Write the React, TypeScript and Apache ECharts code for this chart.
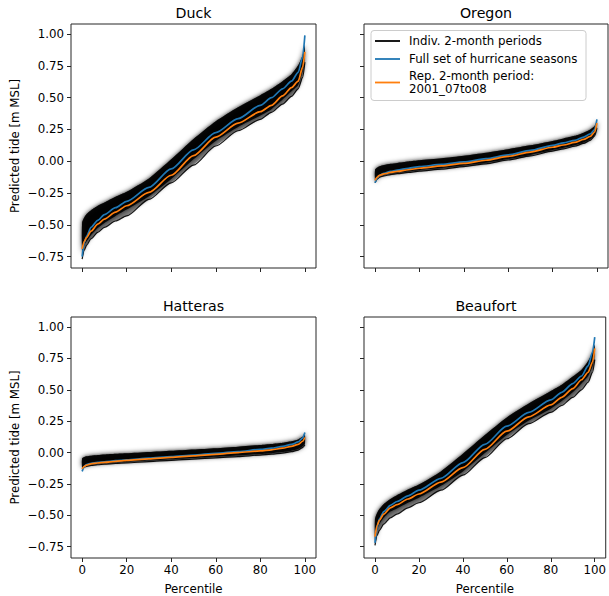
import React, { useEffect, useRef } from "react";
import * as echarts from "echarts";

// Percentile sample positions
const X = [0, 1, 2, 4, 7, 10, 15, 20, 30, 40, 50, 60, 70, 80, 85, 90, 94, 97, 99, 100];

// Duck
const duckBlue = [-0.75, -0.64, -0.59, -0.52, -0.465, -0.42, -0.365, -0.315, -0.205, -0.06, 0.09, 0.225, 0.335, 0.44, 0.5, 0.57, 0.63, 0.7, 0.82, 0.99];
const duckOrange = [-0.69, -0.63, -0.6, -0.55, -0.495, -0.455, -0.4, -0.35, -0.245, -0.11, 0.045, 0.19, 0.3, 0.39, 0.44, 0.515, 0.58, 0.63, 0.74, 0.86];
const duckHi = [-0.48, -0.44, -0.415, -0.385, -0.35, -0.325, -0.28, -0.24, -0.135, 0.015, 0.175, 0.315, 0.425, 0.52, 0.57, 0.63, 0.685, 0.755, 0.835, 0.915];
const duckCoreLo = [-0.72, -0.66, -0.63, -0.58, -0.525, -0.485, -0.43, -0.38, -0.275, -0.14, 0.015, 0.16, 0.27, 0.36, 0.41, 0.485, 0.55, 0.6, 0.71, 0.83];
const duckLo = [-0.77, -0.7, -0.66, -0.61, -0.56, -0.52, -0.47, -0.43, -0.3, -0.17, -0.03, 0.12, 0.24, 0.33, 0.385, 0.45, 0.51, 0.57, 0.66, 0.78];

// Oregon
const oregonBlue = [-0.17, -0.13, -0.11, -0.095, -0.08, -0.07, -0.055, -0.042, -0.025, -0.005, 0.02, 0.05, 0.085, 0.125, 0.145, 0.165, 0.19, 0.215, 0.25, 0.33];
const oregonOrange = [-0.15, -0.125, -0.11, -0.1, -0.088, -0.08, -0.067, -0.055, -0.037, -0.017, 0.008, 0.038, 0.072, 0.11, 0.128, 0.148, 0.172, 0.195, 0.23, 0.3];
const oregonHi = [-0.065, -0.05, -0.04, -0.03, -0.02, -0.013, -0.002, 0.007, 0.023, 0.043, 0.067, 0.095, 0.125, 0.16, 0.18, 0.2, 0.225, 0.25, 0.28, 0.315];
const oregonCoreLo = [-0.162, -0.132, -0.117, -0.107, -0.097, -0.09, -0.08, -0.07, -0.054, -0.034, -0.012, 0.018, 0.05, 0.088, 0.106, 0.126, 0.148, 0.173, 0.208, 0.268];
const oregonLo = [-0.17, -0.14, -0.125, -0.115, -0.105, -0.098, -0.088, -0.078, -0.062, -0.042, -0.02, 0.01, 0.042, 0.08, 0.098, 0.118, 0.14, 0.165, 0.2, 0.26];

// Hatteras
const hatterasBlue = [-0.15, -0.11, -0.095, -0.085, -0.078, -0.073, -0.065, -0.058, -0.045, -0.032, -0.02, -0.006, 0.008, 0.025, 0.035, 0.05, 0.065, 0.085, 0.115, 0.16];
const hatterasOrange = [-0.13, -0.11, -0.1, -0.09, -0.083, -0.078, -0.07, -0.063, -0.05, -0.038, -0.026, -0.014, 0.0, 0.013, 0.022, 0.035, 0.05, 0.065, 0.09, 0.12];
const hatterasHi = [-0.045, -0.035, -0.03, -0.025, -0.019, -0.015, -0.009, -0.005, 0.005, 0.015, 0.025, 0.035, 0.047, 0.06, 0.068, 0.078, 0.09, 0.105, 0.125, 0.155];
const hatterasCoreLo = [-0.122, -0.107, -0.102, -0.095, -0.089, -0.085, -0.079, -0.074, -0.064, -0.054, -0.044, -0.034, -0.024, -0.012, -0.005, 0.004, 0.015, 0.028, 0.048, 0.068];
const hatterasLo = [-0.13, -0.115, -0.11, -0.103, -0.097, -0.093, -0.087, -0.082, -0.072, -0.062, -0.052, -0.042, -0.032, -0.02, -0.013, -0.004, 0.007, 0.02, 0.04, 0.06];

// Beaufort
const beaufortBlue = [-0.72, -0.59, -0.53, -0.47, -0.42, -0.39, -0.345, -0.3, -0.205, -0.08, 0.066, 0.21, 0.32, 0.42, 0.48, 0.55, 0.61, 0.69, 0.8, 0.92];
const beaufortOrange = [-0.67, -0.58, -0.54, -0.49, -0.44, -0.415, -0.37, -0.33, -0.235, -0.12, 0.026, 0.17, 0.285, 0.38, 0.44, 0.51, 0.58, 0.64, 0.72, 0.83];
const beaufortHi = [-0.53, -0.48, -0.45, -0.41, -0.37, -0.34, -0.295, -0.255, -0.15, -0.01, 0.14, 0.28, 0.39, 0.49, 0.54, 0.605, 0.66, 0.73, 0.8, 0.86];
const beaufortCoreLo = [-0.7, -0.61, -0.57, -0.52, -0.47, -0.445, -0.4, -0.36, -0.265, -0.15, -0.004, 0.14, 0.255, 0.35, 0.41, 0.48, 0.55, 0.61, 0.69, 0.8];
const beaufortLo = [-0.74, -0.66, -0.62, -0.57, -0.52, -0.49, -0.44, -0.4, -0.3, -0.18, -0.04, 0.11, 0.23, 0.32, 0.375, 0.44, 0.5, 0.56, 0.64, 0.74];

const titles = ["Duck", "Oregon", "Hatteras", "Beaufort"];
const yTicks = [-0.75, -0.5, -0.25, 0, 0.25, 0.5, 0.75, 1.0];
const xTicks = [0, 20, 40, 60, 80, 100];
const legendNames = ["Indiv. 2-month periods", "Full set of hurricane seasons", "Rep. 2-month period:\n2001_07to08"];

const FONT = "DejaVu Sans";
const BLUE = "#1f77b4";
const ORANGE = "#ff7f0e";

export default function App() {
  const ref = useRef<HTMLDivElement>(null);

  useEffect(() => {
    if (!ref.current) return;
    const chart = echarts.init(ref.current, null, { renderer: "svg" });

    const panels = [
      { blue: duckBlue, orange: duckOrange, hi: duckHi, coreLo: duckCoreLo, lo: duckLo },
      { blue: oregonBlue, orange: oregonOrange, hi: oregonHi, coreLo: oregonCoreLo, lo: oregonLo },
      { blue: hatterasBlue, orange: hatterasOrange, hi: hatterasHi, coreLo: hatterasCoreLo, lo: hatterasLo },
      { blue: beaufortBlue, orange: beaufortOrange, hi: beaufortHi, coreLo: beaufortCoreLo, lo: beaufortLo },
    ];

    const gridPos = [
      { left: 71, top: 24, width: 245, height: 244 },
      { left: 364, top: 24, width: 244, height: 244 },
      { left: 71, top: 317, width: 245, height: 244 },
      { left: 364, top: 317, width: 244, height: 244 },
    ];

    const grid = gridPos.map((g) => ({
      ...g,
      show: true,
      borderColor: "#262626",
      borderWidth: 1,
      backgroundColor: "transparent",
      containLabel: false,
    }));

    const xAxis = gridPos.map((_, i) => ({
      type: "value",
      gridIndex: i,
      position: "bottom",
      min: -5,
      max: 105,
      splitLine: { show: false },
      axisLine: { show: false, onZero: false },
      axisTick: { show: true, length: 4, customValues: xTicks, lineStyle: { color: "#262626", width: 1 } },
      axisLabel: {
        show: i >= 2,
        customValues: xTicks,
        margin: 6,
        fontFamily: FONT,
        fontSize: 11.8,
        color: "#000",
        formatter: (v: number) => String(v),
      },
      name: i >= 2 ? "Percentile" : "",
      nameLocation: "middle",
      nameGap: 25,
      nameTextStyle: { fontFamily: FONT, fontSize: 11.8, color: "#000", verticalAlign: "top" },
    }));

    const yAxis = gridPos.map((_, i) => ({
      type: "value",
      gridIndex: i,
      position: "left",
      min: -0.84,
      max: 1.08,
      splitLine: { show: false },
      axisLine: { show: false, onZero: false },
      axisTick: { show: true, length: 4, customValues: yTicks, lineStyle: { color: "#262626", width: 1 } },
      axisLabel: {
        show: i % 2 === 0,
        customValues: yTicks,
        margin: 7,
        fontFamily: FONT,
        fontSize: 11.8,
        color: "#000",
        formatter: (v: number) => v.toFixed(2).replace("-", "\u2212"),
      },
      name: i % 2 === 0 ? "Predicted tide [m MSL]" : "",
      nameLocation: "middle",
      nameGap: 50,
      nameTextStyle: { fontFamily: FONT, fontSize: 11.8, color: "#000" },
    }));

    const pairs = (arr: number[]) => X.map((x, j) => [x, arr[j]]);

    const series: any[] = [];
    panels.forEach((p, i) => {
      const band = (upper: number[], lower: number[], fill: string, blur: number, z: number) => ({
        type: "custom",
        xAxisIndex: i,
        yAxisIndex: i,
        silent: true,
        clip: true,
        z,
        data: [[50, 0]],
        renderItem: (_params: any, api: any) => {
          const top = upper.map((v, j) => api.coord([X[j], v]));
          const bot = lower.map((v, j) => api.coord([X[j], v])).reverse();
          return {
            type: "polygon",
            shape: { points: top.concat(bot), smooth: 0.2 },
            style: { fill, shadowBlur: blur, shadowColor: fill },
          };
        },
      });
      // lighter lower part of the bundle of individual periods
      series.push(band(p.hi, p.lo, "rgba(0,0,0,0.42)", 2, 1));
      // dense core of the bundle
      series.push(band(p.hi, p.coreLo, "rgba(0,0,0,0.9)", 5, 2));
      series.push({
        type: "line",
        name: legendNames[0],
        xAxisIndex: i,
        yAxisIndex: i,
        data: pairs(p.lo),
        symbol: "none",
        smooth: 0.25,
        smoothMonotone: "x",
        lineStyle: { color: "#000", width: 1.2, opacity: 0.9 },
        z: 3,
      });
      series.push({
        type: "line",
        name: legendNames[1],
        xAxisIndex: i,
        yAxisIndex: i,
        data: pairs(p.blue),
        symbol: "none",
        smooth: 0.25,
        smoothMonotone: "x",
        lineStyle: { color: BLUE, width: 1.7 },
        z: 4,
      });
      series.push({
        type: "line",
        name: legendNames[2],
        xAxisIndex: i,
        yAxisIndex: i,
        data: pairs(p.orange),
        symbol: "none",
        smooth: 0.25,
        smoothMonotone: "x",
        lineStyle: { color: ORANGE, width: 1.7 },
        z: 5,
      });
    });

    const titleCenters = [
      { x: 193.5, y: 13 },
      { x: 486, y: 13 },
      { x: 193.5, y: 306 },
      { x: 486, y: 306 },
    ];

    const graphic: any[] = titleCenters.map((c, i) => ({
      type: "text",
      x: c.x,
      y: c.y,
      style: {
        text: titles[i],
        fontFamily: FONT,
        fontSize: 14.2,
        fontWeight: "normal",
        fill: "#000",
        align: "center",
        verticalAlign: "middle",
      },
    }));

    // Legend box in the Oregon panel
    const legendColors = ["#000", BLUE, ORANGE];
    const legendRowY = [41, 59, 82.5];
    graphic.push({
      type: "group",
      z: 100,
      children: [
        {
          type: "rect",
          shape: { x: 371, y: 30.5, width: 215, height: 70, r: 3 },
          style: { fill: "rgba(255,255,255,0.8)", stroke: "#cccccc", lineWidth: 1 },
        },
        ...legendColors.map((col, k) => ({
          type: "line",
          shape: { x1: 375, y1: legendRowY[k], x2: 400, y2: legendRowY[k] },
          style: { stroke: col, lineWidth: 1.8 },
        })),
        ...legendNames.map((nm, k) => ({
          type: "text",
          x: 409,
          y: legendRowY[k],
          style: {
            text: nm,
            fontFamily: FONT,
            fontSize: 11.8,
            fontWeight: "normal",
            lineHeight: 13,
            fill: "#000",
            align: "left",
            verticalAlign: "middle",
          },
        })),
      ],
    });

    chart.setOption({
      animation: false,
      backgroundColor: "#fff",
      grid,
      xAxis,
      yAxis,
      series,
      graphic,
    });

    return () => chart.dispose();
  }, []);

  return <div ref={ref} style={{ position: "fixed", left: 0, top: 0, width: 609, height: 596 }} />;
}
